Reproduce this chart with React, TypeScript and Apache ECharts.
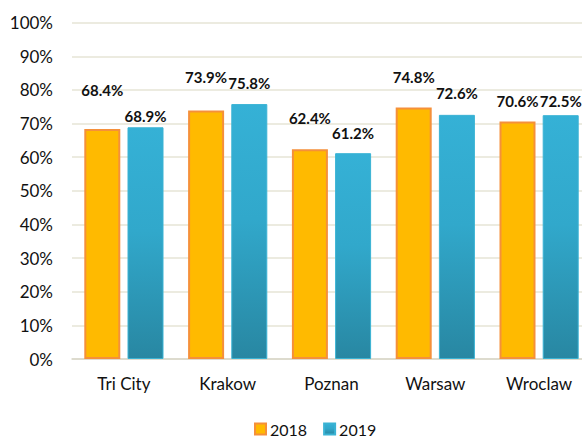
import React, { useEffect, useRef } from "react";
import * as echarts from "echarts";

const cities = ["Tri City", "Krakow", "Poznan", "Warsaw", "Wroclaw"];
const values2018 = [68.4, 73.9, 62.4, 74.8, 70.6];
const values2019 = [68.9, 75.8, 61.2, 72.6, 72.5];
const seriesNames = ["2018", "2019"];
// label gaps above bars (pixels), as placed in the reference
const labelGap2018 = [31, 26, 24, 23, 13];
const labelGap2019 = [4, 14, 13, 14, 7];

const FONT = "Lato, 'Open Sans', sans-serif";

export default function App() {
  const ref = useRef<HTMLDivElement>(null);
  useEffect(() => {
    if (!ref.current) return;
    document.body.style.overflow = "hidden";
    const chart = echarts.init(ref.current, undefined, { renderer: "svg" });
    const labelBase = {
      show: true,
      position: "top" as const,
      fontFamily: FONT,
      fontSize: 15,
      fontWeight: "bold" as const,
      color: "#111",
      formatter: (p: any) => p.value.toFixed(1) + "%",
    };
    chart.setOption({
      animation: false,
      backgroundColor: "#ffffff",
      textStyle: { fontFamily: FONT },
      grid: { left: 72, top: 22.7, right: 0, bottom: 78, containLabel: false },
      legend: {
        data: seriesNames,
        top: 416,
        left: 249,
        icon: "rect",
        itemWidth: 11,
        itemHeight: 11,
        itemGap: 16,
        textStyle: { fontFamily: FONT, fontSize: 16, color: "#111", padding: [0, 0, 0, -1] },
      },
      xAxis: {
        type: "category",
        data: cities,
        axisTick: { show: false },
        axisLine: { lineStyle: { color: "#D8D6C8", width: 1.5 } },
        axisLabel: { fontFamily: FONT, fontSize: 17, color: "#111", margin: 16 },
      },
      yAxis: {
        type: "value",
        min: 0,
        max: 100,
        interval: 10,
        axisLine: { show: false },
        axisTick: { show: false },
        axisLabel: { fontFamily: FONT, fontSize: 17, color: "#111", margin: 19, formatter: "{value}%" },
        splitLine: { lineStyle: { color: "#E6E4D6", width: 1.5 } },
      },
      series: [
        {
          name: seriesNames[0],
          type: "bar",
          barWidth: 36,
          barGap: "20%",
          itemStyle: { color: "#FFBA00", borderColor: "#F5903A", borderWidth: 2 },
          data: values2018.map((v, i) => ({ value: v, label: { ...labelBase, distance: labelGap2018[i] } })),
          label: labelBase,
        },
        {
          name: seriesNames[1],
          type: "bar",
          barWidth: 36,
          itemStyle: {
            color: new echarts.graphic.LinearGradient(0, 0, 0, 1, [
              { offset: 0, color: "#35B1D6" },
              { offset: 0.45, color: "#31A8CB" },
              { offset: 1, color: "#2887A2" },
            ]),
            borderColor: "#3AB3D4",
            borderWidth: 1,
          },
          data: values2019.map((v, i) => ({ value: v, label: { ...labelBase, distance: labelGap2019[i] } })),
          label: labelBase,
        },
      ],
    });
    return () => chart.dispose();
  }, []);
  return (
    <div
      ref={ref}
      style={{ position: "fixed", left: 0, top: 0, width: 591, height: 437, overflow: "hidden" }}
    />
  );
}
